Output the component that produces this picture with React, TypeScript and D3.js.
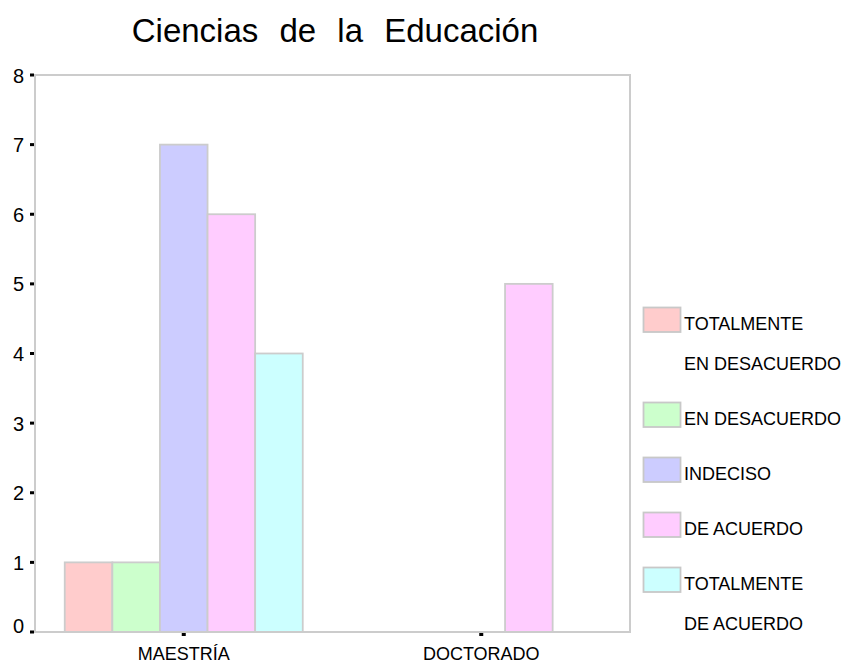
import React from "react";
import * as d3 from "d3";

const title = "Ciencias de la Educación";
const categories = ["MAESTRÍA", "DOCTORADO"];
const seriesNames = [
  ["TOTALMENTE", "EN DESACUERDO"],
  ["EN DESACUERDO"],
  ["INDECISO"],
  ["DE ACUERDO"],
  ["TOTALMENTE", "DE ACUERDO"],
];
const seriesColors = ["#ffcccc", "#ccffcc", "#ccccff", "#ffccff", "#ccffff"];
// values[series][category]
const values = [
  [1, 0],
  [1, 0],
  [7, 0],
  [6, 5],
  [4, 0],
];
const yTicks = [0, 1, 2, 3, 4, 5, 6, 7, 8];

const W = 847;
const H = 663;
const plot = { left: 35, right: 630, top: 75, bottom: 632 };
const FONT = "'Liberation Sans', Arial, sans-serif";

export default function App() {
  const y = d3.scaleLinear().domain([0, 8]).range([plot.bottom, plot.top]);
  const x = d3.scaleBand<string>().domain(categories).range([plot.left, plot.right]);
  const bw = x.bandwidth();
  const xs = d3
    .scaleBand<number>()
    .domain(d3.range(seriesNames.length))
    .range([bw * 0.1, bw * 0.9]);

  // legend layout
  let ly = 307.5;
  const legendItems = seriesNames.map((lines, i) => {
    const item = { lines, color: seriesColors[i], y: ly };
    ly += lines.length * 40 + 15;
    return item;
  });

  return (
    <svg
      width={W}
      height={H}
      style={{ position: "absolute", left: 0, top: 0, background: "#fff" }}
      fontFamily={FONT}
    >
      <rect x={0} y={0} width={W} height={H} fill="#fff" />
      <text x={335} y={42} fontSize={33} wordSpacing={12} textAnchor="middle" fill="#000">
        {title}
      </text>

      {/* bars */}
      {values.map((row, si) =>
        row.map((v, ci) => {
          if (v <= 0) return null;
          const bx = (x(categories[ci]) as number) + (xs(si) as number);
          return (
            <rect
              key={`${si}-${ci}`}
              x={bx}
              y={y(v)}
              width={xs.bandwidth()}
              height={y(0) - y(v)}
              fill={seriesColors[si]}
              stroke="#cccccc"
              strokeWidth={1.8}
            />
          );
        })
      )}

      {/* frame */}
      <rect
        x={plot.left}
        y={plot.top}
        width={plot.right - plot.left}
        height={plot.bottom - plot.top}
        fill="none"
        stroke="#cccccc"
        strokeWidth={2}
      />

      {/* y ticks */}
      {yTicks.map((t) => (
        <g key={t}>
          <rect x={30} y={y(t) - 1.5} width={4} height={3} fill="#000" />
          <text
            x={18.5}
            y={Math.min(y(t) + 7.5, plot.bottom + 1)}
            fontSize={20}
            textAnchor="middle"
            fill="#000"
          >
            {t}
          </text>
        </g>
      ))}

      {/* x ticks */}
      {categories.map((c) => {
        const cx = (x(c) as number) + bw / 2;
        return (
          <g key={c}>
            <rect x={cx - 2} y={plot.bottom + 1} width={4} height={3} fill="#000" />
            <text x={cx} y={660} fontSize={18} textAnchor="middle" fill="#000">
              {c}
            </text>
          </g>
        );
      })}

      {/* legend */}
      {legendItems.map((it, i) => (
        <g key={i}>
          <rect
            x={643.5}
            y={it.y}
            width={37}
            height={24.5}
            fill={it.color}
            stroke="#c8c8c8"
            strokeWidth={1.8}
          />
          {it.lines.map((ln, li) => (
            <text key={li} x={684} y={it.y + 22 + li * 40} fontSize={18} fill="#000">
              {ln}
            </text>
          ))}
        </g>
      ))}
    </svg>
  );
}
